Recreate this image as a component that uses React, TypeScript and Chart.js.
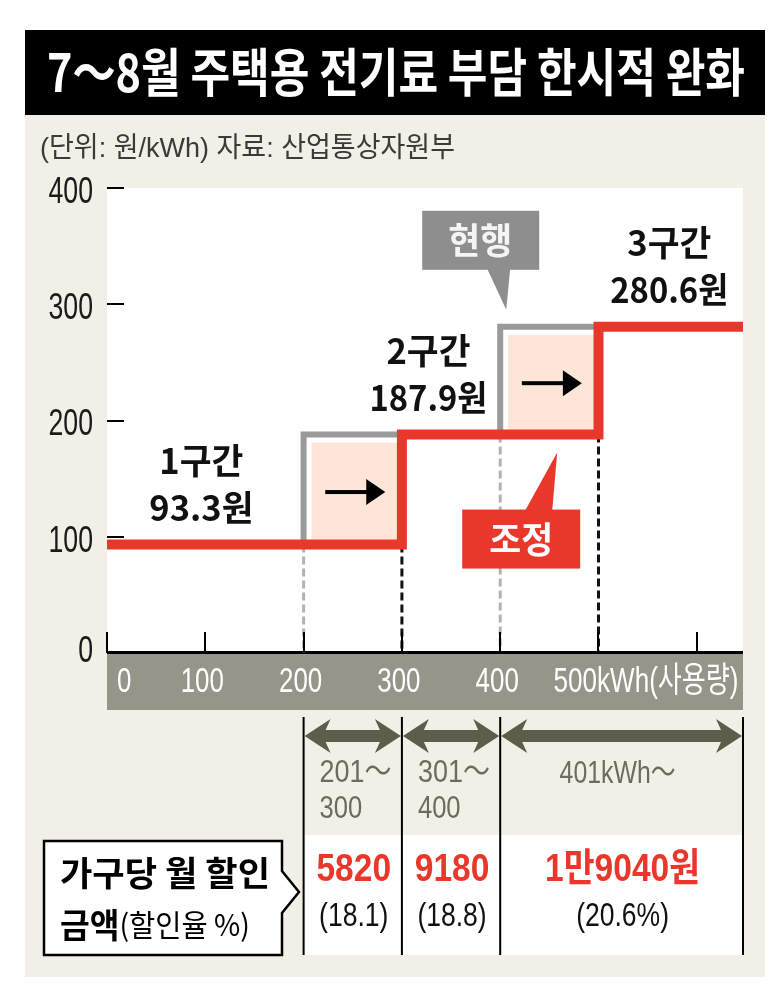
import { useEffect, useRef } from 'react';
import { Chart, registerables } from 'chart.js';

Chart.register(...registerables);

// ---------- data ----------
const title = '7～8월 주택용 전기료 부담 한시적 완화';
const subtitle = '(단위: 원/kWh) 자료: 산업통상자원부';
const tierNames = ['1구간', '2구간', '3구간'];
const tierPriceLabels = ['93.3원', '187.9원', '280.6원'];
const tierPrices = [93.3, 187.9, 280.6];
const currentBreaks = [0, 200, 400];
const adjustedBreaks = [0, 300, 500];
const usageMax = 647;
const yMax = 400;
const yStep = 100;
const xTickValues = [0, 100, 200, 300, 400, 500, 600];
const xTickLabels = ['0', '100', '200', '300', '400', '500kWh(사용량)'];
const rangeLabels = [['201～', '300'], ['301～', '400'], ['401kWh～']];
const discountAmounts = ['5820', '9180', '1만9040원'];
const discountRates = ['(18.1)', '(18.8)', '(20.6%)'];
const currentLabel = '현행';
const adjustedLabel = '조정';
const rowLabel1 = '가구당 월 할인';
const rowLabel2a = '금액';
const rowLabel2b = '(할인율 %)';

// ---------- style ----------
const RED = '#E9382B';
const BEIGE = '#F2F0E6';
const BAND = '#97958A';
const OLIVE = '#5E5D4B';
const RANGE_TXT = '#6C6B5C';
const PINK = '#FDE5D7';
const GRAYLINE = '#9A9A9A';
const GRAYBOX = '#8E8E8E';
const LAT = '"Liberation Sans", "Noto Sans CJK KR", sans-serif';
const KR = '"Noto Sans CJK KR", "Liberation Sans", sans-serif';

type TOpt = { size: number; weight?: number; color: string; family?: string; sx?: number; fit?: number; align?: 'left' | 'center' | 'right' };

function drawText(ctx: CanvasRenderingContext2D, text: string, x: number, y: number, o: TOpt) {
  ctx.save();
  ctx.font = `${o.weight || 400} ${o.size}px ${o.family || LAT}`;
  ctx.fillStyle = o.color;
  ctx.textBaseline = 'middle';
  ctx.textAlign = 'left';
  const raw = ctx.measureText(text).width;
  const sx = o.fit ? o.fit / raw : o.sx || 1;
  const w = raw * sx;
  let left = x;
  if (o.align === 'center') left = x - w / 2;
  else if (o.align === 'right') left = x - w;
  ctx.translate(left, y);
  ctx.scale(sx, 1);
  ctx.fillText(text, 0, 0);
  ctx.restore();
  return w;
}

type Run = { text: string; size: number; weight: number; family: string };
function drawRuns(ctx: CanvasRenderingContext2D, runs: Run[], x: number, y: number, fit: number, color: string) {
  ctx.save();
  ctx.textBaseline = 'middle';
  ctx.textAlign = 'left';
  let total = 0;
  const ws = runs.map((r) => {
    ctx.font = `${r.weight} ${r.size}px ${r.family}`;
    const w = ctx.measureText(r.text).width;
    total += w;
    return w;
  });
  const sx = fit / total;
  ctx.translate(x, y);
  ctx.scale(sx, 1);
  ctx.fillStyle = color;
  let cx = 0;
  runs.forEach((r, i) => {
    ctx.font = `${r.weight} ${r.size}px ${r.family}`;
    ctx.fillText(r.text, cx, 0);
    cx += ws[i];
  });
  ctx.restore();
}

function doubleArrow(ctx: CanvasRenderingContext2D, x1: number, x2: number, y: number) {
  const hl = 21, hh = 17, sh = 6, barb = 5;
  ctx.beginPath();
  ctx.moveTo(x1, y);
  ctx.lineTo(x1 + hl + barb, y - hh);
  ctx.lineTo(x1 + hl, y - sh);
  ctx.lineTo(x2 - hl, y - sh);
  ctx.lineTo(x2 - hl - barb, y - hh);
  ctx.lineTo(x2, y);
  ctx.lineTo(x2 - hl - barb, y + hh);
  ctx.lineTo(x2 - hl, y + sh);
  ctx.lineTo(x1 + hl, y + sh);
  ctx.lineTo(x1 + hl + barb, y + hh);
  ctx.closePath();
  ctx.fillStyle = OLIVE;
  ctx.fill();
}

function rightArrow(ctx: CanvasRenderingContext2D, cx: number, cy: number) {
  ctx.fillStyle = '#000';
  ctx.fillRect(cx - 30, cy - 2, 42, 4);
  ctx.beginPath();
  ctx.moveTo(cx + 11, cy - 13);
  ctx.lineTo(cx + 30, cy);
  ctx.lineTo(cx + 11, cy + 13);
  ctx.closePath();
  ctx.fill();
}

const infographic = {
  id: 'infographic',
  beforeDraw(chart: any) {
    const { ctx, chartArea: ca, scales } = chart;
    const xs = scales.x, ys = scales.y;
    ctx.save();
    // panel
    ctx.fillStyle = BEIGE;
    ctx.fillRect(25, 115, 740, 862);
    // title bar
    ctx.fillStyle = '#000';
    ctx.fillRect(25, 30, 740, 85);
    drawText(ctx, title, 396, 72, { size: 52, weight: 700, color: '#fff', family: KR, fit: 698, align: 'center' });
    drawText(ctx, subtitle, 40, 149, { size: 28, weight: 400, color: '#3a3a3a', family: LAT, fit: 415 });
    // plot bg
    ctx.fillStyle = '#fff';
    ctx.fillRect(ca.left, ca.top, ca.right - ca.left, ca.bottom - ca.top);
    // y tick labels (from the y scale's ticks)
    const y0 = ys.getPixelForValue(0);
    ys.ticks.forEach((t: any) => {
      const py = ys.getPixelForValue(t.value);
      drawText(ctx, String(t.value), ca.left - 14, Math.min(py + 5, y0 - 1), { size: 36, color: '#1a1a1a', sx: 0.74, align: 'right' });
    });
    // x band
    ctx.fillStyle = BAND;
    ctx.fillRect(ca.left, ca.bottom, ca.right - ca.left, 57);
    xTickLabels.forEach((lab, i) => {
      const px = xs.getPixelForValue(xTickValues[i]);
      const o: TOpt = { size: 35, color: '#fff', sx: 0.74 };
      if (i === 0) drawText(ctx, lab, px + 10, ca.bottom + 29, { ...o, align: 'left' });
      else if (i === xTickLabels.length - 1) drawText(ctx, lab, px - 45, ca.bottom + 29, { ...o, fit: 185, align: 'left' });
      else drawText(ctx, lab, px - 3, ca.bottom + 29, { ...o, align: 'center' });
    });
    // table
    const bounds = [xs.getPixelForValue(currentBreaks[1]), xs.getPixelForValue(adjustedBreaks[1]), xs.getPixelForValue(currentBreaks[2]), ca.right];
    ctx.fillStyle = '#fff';
    ctx.fillRect(bounds[0], 835, bounds[3] - bounds[0], 120);
    ctx.fillStyle = '#000';
    bounds.forEach((b) => ctx.fillRect(b - 1, 717, 2, 238));
    for (let i = 0; i < 3; i++) {
      const l = bounds[i], r = bounds[i + 1], c = (l + r) / 2;
      doubleArrow(ctx, l + 1, r - 1, 736);
      const rl = rangeLabels[i];
      if (rl.length === 2) {
        drawText(ctx, rl[0], l + 16, 773, { size: 32, color: RANGE_TXT, fit: 72 });
        drawText(ctx, rl[1], l + 16, 809, { size: 32, color: RANGE_TXT, sx: 0.8 });
      } else {
        drawText(ctx, rl[0], c - 4, 774, { size: 32, color: RANGE_TXT, fit: 116, align: 'center' });
      }
      drawText(ctx, discountAmounts[i], c + 1, 870, { size: 39, weight: 700, color: RED, family: LAT, sx: 0.86, align: 'center' });
      drawText(ctx, discountRates[i], c + 1, 917, { size: 34, color: '#111', sx: 0.78, align: 'center' });
    }
    // row label box with pointer
    ctx.beginPath();
    ctx.moveTo(44, 841);
    ctx.lineTo(282, 841);
    ctx.lineTo(282, 871);
    ctx.lineTo(299, 892);
    ctx.lineTo(282, 913);
    ctx.lineTo(282, 955);
    ctx.lineTo(44, 955);
    ctx.closePath();
    ctx.fillStyle = '#fff';
    ctx.fill();
    ctx.lineWidth = 2.5;
    ctx.strokeStyle = '#000';
    ctx.stroke();
    drawText(ctx, rowLabel1, 60, 873, { size: 34, weight: 700, color: '#000', family: KR, fit: 210 });
    drawRuns(ctx, [
      { text: rowLabel2a, size: 34, weight: 700, family: KR },
      { text: rowLabel2b, size: 30, weight: 400, family: KR },
    ], 60, 925, 190, '#000');
    ctx.restore();
  },
  beforeDatasetsDraw(chart: any) {
    const { ctx, scales } = chart;
    const xs = scales.x, ys = scales.y;
    ctx.save();
    // pink discount areas
    for (let i = 1; i < 3; i++) {
      const l = xs.getPixelForValue(currentBreaks[i]) + 8;
      const r = xs.getPixelForValue(adjustedBreaks[i]);
      const t = ys.getPixelForValue(tierPrices[i]) + 8;
      const b = ys.getPixelForValue(tierPrices[i - 1]);
      ctx.fillStyle = PINK;
      ctx.fillRect(l, t, r - l, b - t);
    }
    // dashed drop lines
    const y0 = ys.getPixelForValue(0);
    ctx.lineWidth = 3;
    ctx.setLineDash([8, 4]);
    for (let i = 1; i < 3; i++) {
      const gx = xs.getPixelForValue(currentBreaks[i]);
      ctx.strokeStyle = '#B2B2B2';
      ctx.beginPath();
      ctx.moveTo(gx, ys.getPixelForValue(tierPrices[i - 1]));
      ctx.lineTo(gx, y0);
      ctx.stroke();
      const bx = xs.getPixelForValue(adjustedBreaks[i]);
      ctx.strokeStyle = '#111';
      ctx.beginPath();
      ctx.moveTo(bx, ys.getPixelForValue(tierPrices[i - 1]));
      ctx.lineTo(bx, y0);
      ctx.stroke();
    }
    ctx.setLineDash([]);
    ctx.restore();
  },
  afterDatasetsDraw(chart: any) {
    const { ctx, chartArea: ca, scales } = chart;
    const xs = scales.x, ys = scales.y;
    ctx.save();
    const y0 = ys.getPixelForValue(0);
    // axis line and ticks
    ctx.fillStyle = '#000';
    ctx.fillRect(ca.left, y0 - 2, ca.right - ca.left, 3);
    xTickValues.forEach((v) => {
      const px = xs.getPixelForValue(v);
      ctx.fillRect(Math.round(px) - 1, y0 - 21, 2, 21);
    });
    ys.ticks.forEach((t: any) => {
      if (t.value === 0) return;
      const py = ys.getPixelForValue(t.value);
      ctx.fillRect(ca.left, Math.round(py) - 1, 17, 2);
    });
    // arrows in pink areas
    for (let i = 1; i < 3; i++) {
      const l = xs.getPixelForValue(currentBreaks[i]) + 8;
      const r = xs.getPixelForValue(adjustedBreaks[i]) - 5;
      const t = ys.getPixelForValue(tierPrices[i]) + 8;
      const b = ys.getPixelForValue(tierPrices[i - 1]) - 5;
      rightArrow(ctx, (l + r) / 2 + 1, (t + b) / 2 + 1);
    }
    // tier labels
    const labelX = [96, 327, 572];
    for (let i = 0; i < 3; i++) {
      const px = xs.getPixelForValue(labelX[i]);
      const py = ys.getPixelForValue(tierPrices[i]);
      drawText(ctx, tierNames[i], px, py - 84, { size: 35, weight: 700, color: '#111', family: KR, fit: 84, align: 'center' });
      drawText(ctx, tierPriceLabels[i], px, py - 37, { size: 35, weight: 700, color: '#111', family: KR, fit: i === 0 ? 104 : 118, align: 'center' });
    }
    // current callout
    const ax = xs.getPixelForValue(currentBreaks[2]);
    const ay = ys.getPixelForValue(tierPrices[2]);
    ctx.fillStyle = GRAYBOX;
    ctx.fillRect(ax - 78, ay - 116, 117, 59);
    ctx.beginPath();
    ctx.moveTo(ax - 13, ay - 58);
    ctx.lineTo(ax + 10, ay - 58);
    ctx.lineTo(ax + 6, ay - 17);
    ctx.closePath();
    ctx.fill();
    drawText(ctx, currentLabel, ax - 20, ay - 86, { size: 36, weight: 700, color: '#F4F4F4', family: KR, fit: 64, align: 'center' });
    // adjusted callout
    const by = ys.getPixelForValue(tierPrices[1]);
    ctx.fillStyle = RED;
    ctx.fillRect(ax - 38, by + 75, 118, 59);
    ctx.beginPath();
    ctx.moveTo(ax + 25, by + 76);
    ctx.lineTo(ax + 52, by + 76);
    ctx.lineTo(ax + 57, by + 18);
    ctx.closePath();
    ctx.fill();
    drawText(ctx, adjustedLabel, ax + 21, by + 105, { size: 36, weight: 700, color: '#FFFFFF', family: KR, fit: 64, align: 'center' });
    ctx.restore();
  },
};

function stepPoints(breaks: number[]) {
  const pts = breaks.map((b, i) => ({ x: b, y: tierPrices[i] }));
  pts.push({ x: usageMax, y: tierPrices[tierPrices.length - 1] });
  return pts;
}

export default function App() {
  const ref = useRef<HTMLCanvasElement>(null);
  useEffect(() => {
    const chart = new Chart(ref.current as HTMLCanvasElement, {
      type: 'line',
      data: {
        datasets: [
          {
            label: adjustedLabel,
            data: stepPoints(adjustedBreaks),
            borderColor: RED,
            borderWidth: 10,
            stepped: 'before',
            pointRadius: 0,
            borderJoinStyle: 'miter',
            borderCapStyle: 'butt',
            fill: false,
          },
          {
            label: currentLabel,
            data: stepPoints(currentBreaks),
            borderColor: GRAYLINE,
            borderWidth: 6,
            stepped: 'before',
            pointRadius: 0,
            borderJoinStyle: 'miter',
            borderCapStyle: 'butt',
            fill: false,
          },
        ],
      },
      options: {
        animation: false,
        responsive: false,
        maintainAspectRatio: false,
        layout: { padding: { left: 0, right: 40, top: 188, bottom: 0 } },
        plugins: { legend: { display: false }, tooltip: { enabled: false } },
        scales: {
          x: {
            type: 'linear',
            min: 0,
            max: usageMax,
            grid: { display: false },
            border: { display: false },
            ticks: { display: false },
            afterFit: (s: any) => { s.height = 344; },
          },
          y: {
            min: 0,
            max: yMax,
            grid: { display: false, drawTicks: false },
            border: { display: false },
            ticks: { stepSize: yStep, display: false },
            afterFit: (s: any) => { s.width = 107; },
          },
        },
      },
      plugins: [infographic],
    } as any);
    return () => chart.destroy();
  }, []);
  return (
    <div style={{ position: 'absolute', left: 0, top: 0, width: 783, height: 997 }}>
      <canvas ref={ref} width={783} height={997} style={{ display: 'block', width: 783, height: 997 }} />
    </div>
  );
}
